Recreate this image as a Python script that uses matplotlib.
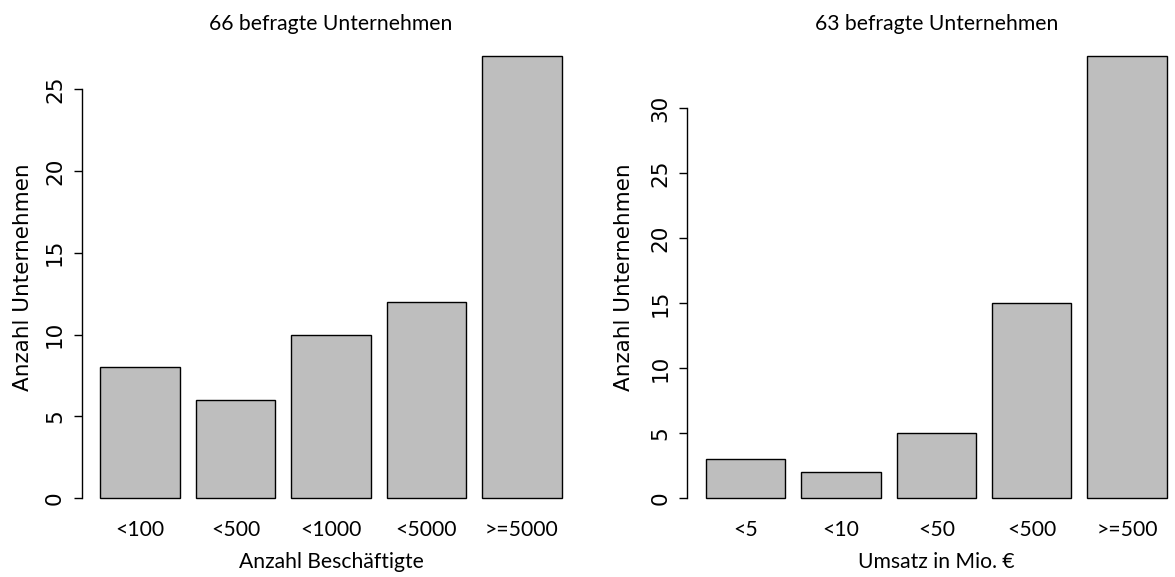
import matplotlib
matplotlib.use('Agg')
import matplotlib.pyplot as plt
import numpy as np

# data
emp_labels = ['<100', '<500', '<1000', '<5000', '>=5000']
emp_counts = [8, 6, 10, 12, 27]
rev_labels = ['<5', '<10', '<50', '<500', '>=500']
rev_counts = [3, 2, 5, 15, 34]

plt.rcParams['font.family'] = ['Lato', 'DejaVu Sans']
plt.rcParams['font.size'] = 15.2

fig = plt.figure(figsize=(11.75, 5.77), dpi=100)

W, H = 1175.0, 577.0
yfont = dict(family='DejaVu Sans', size=15.5)


def rbarplot(ax, labels, counts, yticks, title, xlabel, ylab_x):
    # R barplot layout: width 1, space 0.2
    lefts = 0.2 + 1.2*np.arange(len(counts))
    centers = lefts + 0.5
    ax.bar(centers, counts, width=1.0, color='#bebebe', edgecolor='black', linewidth=1.0)
    x0, x1 = 0.2, lefts[-1] + 1.0
    dx = 0.04*(x1 - x0)
    ax.set_xlim(x0 - dx, x1 + dx)
    ymax = max(counts)
    ax.set_ylim(-0.04*ymax, 1.04*ymax)
    for s in ['top', 'right', 'bottom']:
        ax.spines[s].set_visible(False)
    ax.spines['left'].set_bounds(yticks[0], yticks[-1])
    ax.spines['left'].set_linewidth(1.0)
    ax.set_yticks(yticks)
    ax.set_yticklabels([str(t) for t in yticks], rotation=90, va='center', **yfont)
    ax.tick_params(axis='y', length=5.8, width=1.0, pad=6.5)
    ax.set_xticks(centers)
    ax.set_xticklabels(labels)
    ax.tick_params(axis='x', length=0, pad=3)
    ax.set_xlabel(xlabel, labelpad=9)
    ax.set_ylabel('Anzahl Unternehmen', **yfont)
    ax.yaxis.set_label_coords(ylab_x, 0.5)
    ax.set_title(title, pad=6, fontsize=15.2)


bottom = (H - 515.8)/H
height = (515.8 - 38.8)/H
ax1 = fig.add_axes([82/W, bottom, 498/W, height])
ax2 = fig.add_axes([687.3/W, bottom, 498/W, height])

rbarplot(ax1, emp_labels, emp_counts, [0, 5, 10, 15, 20, 25],
         '66 befragte Unternehmen', 'Anzahl Beschäftigte', -0.098)
rbarplot(ax2, rev_labels, rev_counts, [0, 5, 10, 15, 20, 25, 30],
         '63 befragte Unternehmen', 'Umsatz in Mio. €', -0.108)

fig.savefig('out.png', dpi=100)
